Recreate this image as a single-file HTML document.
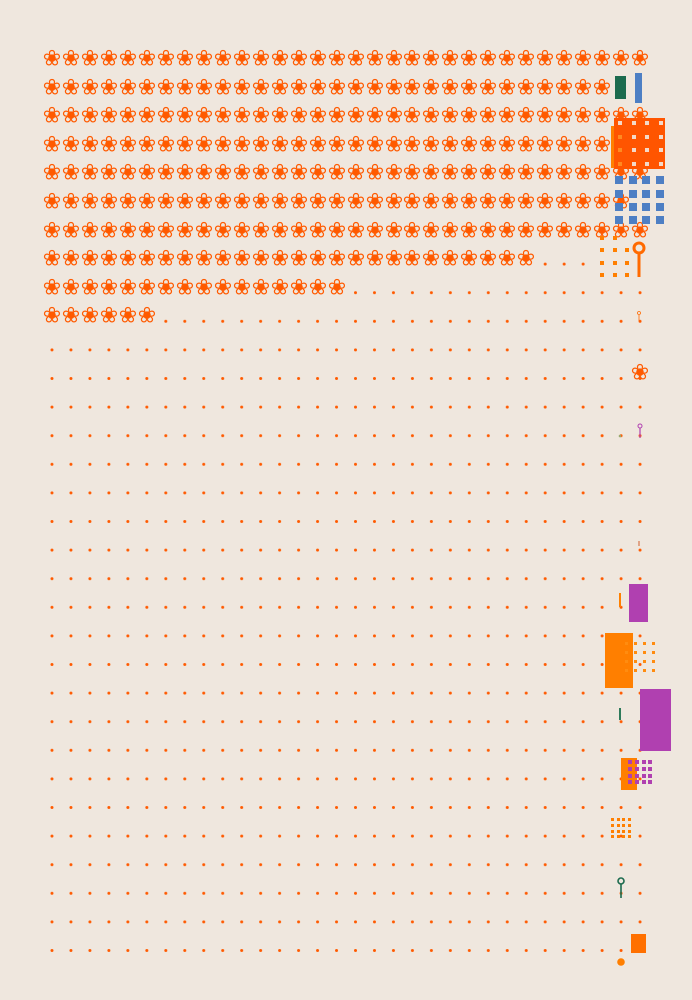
<!DOCTYPE html>
<html><head><meta charset="utf-8"><style>
html,body{margin:0;padding:0;background:#efe7de;}
svg{display:block}
.f{font-family:"DejaVu Sans",sans-serif;font-size:22px;fill:#ff5a00;text-anchor:middle;dominant-baseline:central}
</style></head><body>
<svg width="692" height="1000" viewBox="0 0 692 1000" xmlns="http://www.w3.org/2000/svg">
<defs>
<pattern id="d" patternUnits="userSpaceOnUse" x="42.5" y="307" width="18.97" height="28.6">
<circle cx="9.48" cy="14.3" r="1.5" fill="#ff5a00"/>
</pattern>
</defs>
<rect width="692" height="1000" fill="#efe7de"/>
<rect x="42.5" y="335.6" width="607" height="629.2" fill="url(#d)"/>
<rect x="156" y="307" width="493.5" height="28.6" fill="url(#d)"/>
<rect x="346" y="278.4" width="303.5" height="28.6" fill="url(#d)"/>
<rect x="536" y="249.8" width="56" height="28.6" fill="url(#d)"/>
<g class="f">
<text y="59" x="52 71 90 109 128 147 166 185 204 223 242 261 280 299 318 337 356 375 394 412 431 450 469 488 507 526 545 564 583 602 621 640">❀❀❀❀❀❀❀❀❀❀❀❀❀❀❀❀❀❀❀❀❀❀❀❀❀❀❀❀❀❀❀❀</text>
<text y="88" x="52 71 90 109 128 147 166 185 204 223 242 261 280 299 318 337 356 375 394 412 431 450 469 488 507 526 545 564 583 602">❀❀❀❀❀❀❀❀❀❀❀❀❀❀❀❀❀❀❀❀❀❀❀❀❀❀❀❀❀❀</text>
<text y="116" x="52 71 90 109 128 147 166 185 204 223 242 261 280 299 318 337 356 375 394 412 431 450 469 488 507 526 545 564 583 602 621 640">❀❀❀❀❀❀❀❀❀❀❀❀❀❀❀❀❀❀❀❀❀❀❀❀❀❀❀❀❀❀❀❀</text>
<text y="145" x="52 71 90 109 128 147 166 185 204 223 242 261 280 299 318 337 356 375 394 412 431 450 469 488 507 526 545 564 583 602 621 640">❀❀❀❀❀❀❀❀❀❀❀❀❀❀❀❀❀❀❀❀❀❀❀❀❀❀❀❀❀❀❀❀</text>
<text y="173" x="52 71 90 109 128 147 166 185 204 223 242 261 280 299 318 337 356 375 394 412 431 450 469 488 507 526 545 564 583 602 621 640">❀❀❀❀❀❀❀❀❀❀❀❀❀❀❀❀❀❀❀❀❀❀❀❀❀❀❀❀❀❀❀❀</text>
<text y="202" x="52 71 90 109 128 147 166 185 204 223 242 261 280 299 318 337 356 375 394 412 431 450 469 488 507 526 545 564 583 602 621">❀❀❀❀❀❀❀❀❀❀❀❀❀❀❀❀❀❀❀❀❀❀❀❀❀❀❀❀❀❀❀</text>
<text y="231" x="52 71 90 109 128 147 166 185 204 223 242 261 280 299 318 337 356 375 394 412 431 450 469 488 507 526 545 564 583 602 621 640">❀❀❀❀❀❀❀❀❀❀❀❀❀❀❀❀❀❀❀❀❀❀❀❀❀❀❀❀❀❀❀❀</text>
<text y="259" x="52 71 90 109 128 147 166 185 204 223 242 261 280 299 318 337 356 375 394 412 431 450 469 488 507 526">❀❀❀❀❀❀❀❀❀❀❀❀❀❀❀❀❀❀❀❀❀❀❀❀❀❀</text>
<text y="288" x="52 71 90 109 128 147 166 185 204 223 242 261 280 299 318 337">❀❀❀❀❀❀❀❀❀❀❀❀❀❀❀❀</text>
<text y="316" x="52 71 90 109 128 147">❀❀❀❀❀❀</text>
<text y="373" x="640">❀</text>
</g>
<rect x="615" y="76" width="11" height="23" fill="#1c6b4e"/>
<rect x="635" y="73" width="7" height="30" fill="#4d7fc4"/>
<rect x="611" y="126" width="4" height="42" fill="#ff8000"/>
<rect x="614" y="118" width="51" height="51" fill="#ff5500"/>
<g fill="#f3d9c8">
<rect x="618" y="121" width="4" height="4"/><rect x="632" y="121" width="4" height="4"/><rect x="645" y="121" width="4" height="4"/><rect x="659" y="121" width="4" height="4"/>
<rect x="632" y="135" width="4" height="4"/><rect x="645" y="135" width="4" height="4"/><rect x="659" y="135" width="4" height="4"/>
<rect x="632" y="148" width="4" height="4"/><rect x="645" y="148" width="4" height="4"/><rect x="659" y="148" width="4" height="4"/>
<rect x="632" y="162" width="4" height="4"/><rect x="645" y="162" width="4" height="4"/><rect x="659" y="162" width="4" height="4"/>
</g>
<g fill="#ff8a20">
<rect x="618" y="135" width="4" height="4"/><rect x="618" y="148" width="4" height="4"/><rect x="618" y="162" width="4" height="4"/>
</g>
<g fill="#4d7fc4">
<rect x="615" y="176" width="8" height="8"/><rect x="629" y="176" width="8" height="8"/><rect x="642" y="176" width="8" height="8"/><rect x="656" y="176" width="8" height="8"/>
<rect x="615" y="190" width="8" height="8"/><rect x="629" y="190" width="8" height="8"/><rect x="642" y="190" width="8" height="8"/><rect x="656" y="190" width="8" height="8"/>
<rect x="615" y="203" width="8" height="8"/><rect x="629" y="203" width="8" height="8"/><rect x="642" y="203" width="8" height="8"/><rect x="656" y="203" width="8" height="8"/>
<rect x="615" y="216" width="8" height="8"/><rect x="629" y="216" width="8" height="8"/><rect x="642" y="216" width="8" height="8"/><rect x="656" y="216" width="8" height="8"/>
</g>
<g fill="#ff7f00">
<rect x="600" y="248" width="4" height="4"/><rect x="613" y="248" width="4" height="4"/><rect x="625" y="248" width="4" height="4"/>
<rect x="600" y="261" width="4" height="4"/><rect x="613" y="261" width="4" height="4"/><rect x="625" y="261" width="4" height="4"/>
<rect x="600" y="273" width="4" height="4"/><rect x="613" y="273" width="4" height="4"/><rect x="625" y="273" width="4" height="4"/>
<rect x="600" y="236" width="4" height="4"/><rect x="613" y="236" width="4" height="4"/>
</g>
<circle cx="639" cy="248" r="5" fill="none" stroke="#ff6a00" stroke-width="3"/>
<line x1="639" y1="253" x2="639" y2="277" stroke="#ff6a00" stroke-width="3"/>
<circle cx="639" cy="313" r="1.5" fill="none" stroke="#ff6a00" stroke-width="0.8"/>
<line x1="639" y1="315" x2="639" y2="321" stroke="#ff6a00" stroke-width="0.8"/>
<circle cx="640" cy="426" r="2" fill="none" stroke="#b040b0" stroke-width="1"/>
<line x1="640" y1="428" x2="640" y2="438" stroke="#b040b0" stroke-width="1.2"/>
<circle cx="620" cy="436" r="1.3" fill="#9aaa70"/>
<line x1="639" y1="541" x2="639" y2="546" stroke="#d06030" stroke-width="1"/>
<rect x="619" y="593" width="2" height="14" fill="#ff8000"/>
<rect x="629" y="584" width="19" height="38" fill="#b040b0"/>
<rect x="605" y="633" width="28" height="55" fill="#ff7f00"/>
<g fill="#ff8c10">
<rect x="625" y="642" width="3" height="3"/><rect x="634" y="642" width="3" height="3"/><rect x="643" y="642" width="3" height="3"/><rect x="652" y="642" width="3" height="3"/>
<rect x="625" y="651" width="3" height="3"/><rect x="634" y="651" width="3" height="3"/><rect x="643" y="651" width="3" height="3"/><rect x="652" y="651" width="3" height="3"/>
<rect x="625" y="660" width="3" height="3"/><rect x="634" y="660" width="3" height="3"/><rect x="643" y="660" width="3" height="3"/><rect x="652" y="660" width="3" height="3"/>
<rect x="625" y="669" width="3" height="3"/><rect x="634" y="669" width="3" height="3"/><rect x="643" y="669" width="3" height="3"/><rect x="652" y="669" width="3" height="3"/>
</g>
<rect x="640" y="689" width="31" height="62" fill="#b040b0"/>
<rect x="619" y="708" width="2" height="12" fill="#2e7a5a"/>
<rect x="621" y="758" width="16" height="32" fill="#ff7f00"/>
<g fill="#b040b0">
<rect x="628" y="760" width="4" height="4"/><rect x="635" y="760" width="4" height="4"/><rect x="642" y="760" width="4" height="4"/><rect x="648" y="760" width="4" height="4"/>
<rect x="628" y="767" width="4" height="4"/><rect x="635" y="767" width="4" height="4"/><rect x="642" y="767" width="4" height="4"/><rect x="648" y="767" width="4" height="4"/>
<rect x="628" y="774" width="4" height="4"/><rect x="635" y="774" width="4" height="4"/><rect x="642" y="774" width="4" height="4"/><rect x="648" y="774" width="4" height="4"/>
<rect x="628" y="780" width="4" height="4"/><rect x="635" y="780" width="4" height="4"/><rect x="642" y="780" width="4" height="4"/><rect x="648" y="780" width="4" height="4"/>
</g>
<g fill="#ff7f00">
<rect x="611" y="818" width="3" height="3"/><rect x="617" y="818" width="3" height="3"/><rect x="622" y="818" width="3" height="3"/><rect x="628" y="818" width="3" height="3"/>
<rect x="611" y="824" width="3" height="3"/><rect x="617" y="824" width="3" height="3"/><rect x="622" y="824" width="3" height="3"/><rect x="628" y="824" width="3" height="3"/>
<rect x="611" y="830" width="3" height="3"/><rect x="617" y="830" width="3" height="3"/><rect x="622" y="830" width="3" height="3"/><rect x="628" y="830" width="3" height="3"/>
<rect x="611" y="835" width="3" height="3"/><rect x="617" y="835" width="3" height="3"/><rect x="622" y="835" width="3" height="3"/><rect x="628" y="835" width="3" height="3"/>
</g>
<circle cx="621" cy="881" r="3" fill="none" stroke="#1c6b4e" stroke-width="1.6"/>
<line x1="621" y1="884" x2="621" y2="898" stroke="#1c6b4e" stroke-width="1.6"/>
<rect x="631" y="934" width="15" height="19" fill="#ff7000"/>
<circle cx="621" cy="962" r="3.8" fill="#ff7f00"/>
</svg>
</body></html>
